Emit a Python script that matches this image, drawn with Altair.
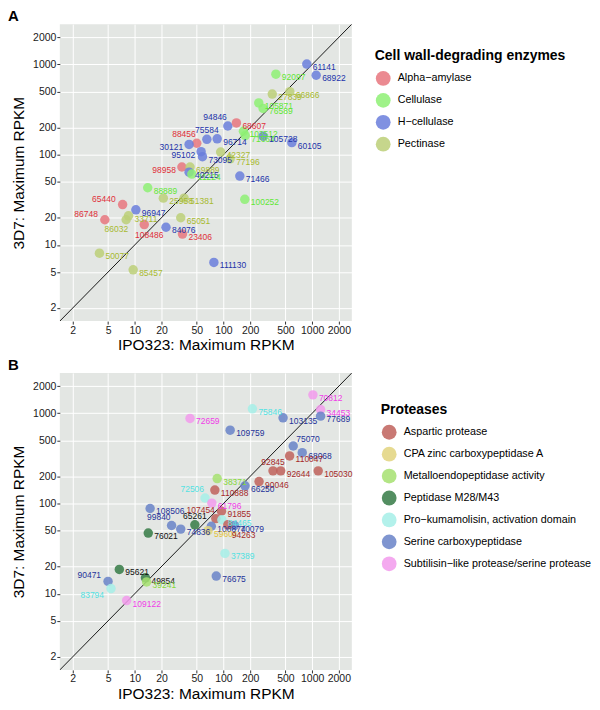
import altair as alt
import pandas as pd

FONT = "Liberation Sans"
TICKS = [2, 5, 10, 20, 50, 100, 200, 500, 1000, 2000]
DOMAIN = [1.43, 2800]

# ---------------- Panel A: cell wall-degrading enzymes ----------------
a_groups = ["Alpha\u2212amylase", "Cellulase", "H\u2212cellulase", "Pectinase"]
a_ids = ["61141", "68922", "92097", "66866", "27839", "105871", "76589", "94846",
         "68607", "103512", "71664", "105728", "60105", "75584", "96714", "88456",
         "30121", "95102", "73095", "42327", "77196", "98958", "69889", "40215",
         "11224", "71466", "88889", "25958", "51381", "100252", "65440", "96947",
         "33711", "86032", "86748", "65051", "108486", "84076", "23406", "50077",
         "85457", "111130"]
a_grp = [2, 2, 1, 3, 3, 1, 1, 2,
         0, 1, 1, 2, 2, 2, 2, 0,
         2, 2, 2, 3, 3, 0, 3, 2,
         1, 2, 1, 3, 3, 1, 0, 2,
         3, 3, 0, 3, 0, 2, 0, 3,
         3, 2]
a_ipo = [870, 1110, 390, 560, 355, 250, 280, 112,
         140, 168, 176, 280, 590, 65, 85, 50,
         41, 56, 58, 93, 119, 34, 42, 41,
         44, 153, 14, 21, 36, 174, 7.3, 10.3,
         8.5, 8, 4.6, 33, 12.8, 22.5, 34.5, 4,
         9.6, 78]
a_3d7 = [1010, 760, 780, 500, 470, 375, 325, 208,
         225, 182, 163, 160, 136, 148, 150, 134,
         130, 108, 95, 107, 90, 73, 73, 64,
         61, 58, 43, 33, 33, 32, 28, 24.5,
         21, 19, 19, 20, 16.8, 15.7, 13.2, 8.1,
         5.3, 6.4]
a_side = ["r", "r", "r", "r", "r", "r", "r", "ul",
          "r", "r", "r", "r", "r", "u", "r", "ul",
          "l", "l", "r", "r", "r", "l", "r", "r",
          "r", "r", "r", "r", "r", "r", "lu", "r",
          "r", "bl", "lu", "r", "b", "r", "r", "r",
          "r", "r"]
a_point_colors = ["#E8767E", "#8EF074", "#6A7EDC", "#BCCF78"]
a_text_colors = ["#E0303A", "#5FE834", "#2233AA", "#A8BA30"]

# ---------------- Panel B: proteases ----------------
b_groups = ["Aspartic protease", "CPA zinc carboxypeptidase A",
            "Metalloendopeptidase activity", "Peptidase M28/M43",
            "Pro\u2212kumamolisin, activation domain", "Serine carboxypeptidase",
            "Subtilisin\u2212like protease/serine protease"]
b_ids = ["70812", "75846", "34453", "77689", "103135", "72659", "109759", "75070",
         "68068", "110047", "92845", "92644", "105030", "38371", "90046", "66250",
         "110888", "72506", "61796", "108506", "91855", "107454", "84465", "99840",
         "74836", "65261", "106874", "70079", "94263", "59604", "76021", "37389",
         "76675", "95621", "49854", "39241", "90471", "83794", "109122"]
b_grp = [6, 4, 6, 5, 5, 6, 5, 5,
         5, 0, 0, 0, 0, 2, 0, 5,
         0, 4, 6, 5, 0, 0, 4, 5,
         5, 3, 5, 5, 0, 1, 3, 4,
         5, 3, 3, 2, 5, 4, 6]
b_ipo = [1020, 212, 1245, 1245, 470, 42, 119, 612,
         773, 557, 362, 442, 1170, 85, 252, 175,
         80, 62, 74, 14.9, 95, 82, 96, 26,
         33, 47.6, 73, 133, 112, 67, 14.2, 104,
         83, 6.7, 13.2, 13.6, 5, 5.4, 8.1]
b_3d7 = [1600, 1120, 1100, 930, 890, 877, 650, 434,
         366, 337, 230, 230, 230, 189, 175, 157,
         141, 115, 101, 88, 82, 68, 66, 57,
         52, 58, 56, 57, 58, 50, 47, 28,
         15.7, 18.6, 15, 13.5, 13.7, 11.4, 8.4]
b_side = ["r", "r", "r", "r", "r", "r", "r", "ur",
          "r", "r", "u", "r", "r", "r", "r", "r",
          "r", "ul", "r", "r", "r", "ul", "r", "ul",
          "r", "u", "r", "r", "br", "r", "r", "r",
          "r", "r", "r", "r", "lu", "lb", "r"]
b_point_colors = ["#C0625C", "#E2D47E", "#A6E070", "#357A45", "#A6EEE8",
                  "#6883C8", "#F29AEC"]
b_text_colors = ["#A52A2A", "#E3C23A", "#86D83A", "#111111", "#52E2E2",
                 "#1F3399", "#F040E8"]

# label placement styles: code -> (align, dx, dy)
LABEL_STYLE = {
    "r": ("left", 6, 3), "l": ("right", -6, 3), "ul": ("right", -1, -9),
    "lu": ("right", -7, -6), "u": ("center", 0, -9), "ur": ("left", 3, -7),
    "b": ("center", 5, 10), "bl": ("right", 2, 9), "lb": ("right", -7, 6),
    "br": ("left", 4, 10),
}


def panel(letter, groups, ids, grp, xs, ys, sides, pcols, tcols, title,
          legx, legy):
    df = pd.DataFrame({
        "id": ids,
        "group": [groups[g] for g in grp],
        "tcolor": [tcols[g] for g in grp],
        "ipo": xs, "d3d7": ys, "side": sides,
    })
    xsc = alt.Scale(type="log", domain=DOMAIN, nice=False)
    ysc = alt.Scale(type="log", domain=DOMAIN, nice=False)
    xax = alt.Axis(values=TICKS, format="d", title="IPO323: Maximum RPKM")
    yax = alt.Axis(values=TICKS, format="d", title="3D7: Maximum RPKM",
                   titlePadding=6)
    base = alt.Chart(df)

    line_df = pd.DataFrame({"a": DOMAIN, "b": DOMAIN})
    diag = alt.Chart(line_df).mark_line(color="black", strokeWidth=0.9,
                                        clip=True).encode(
        x=alt.X("a:Q", scale=xsc, axis=xax),
        y=alt.Y("b:Q", scale=ysc, axis=yax),
    )
    pts = base.mark_circle(size=90, opacity=0.85).encode(
        x=alt.X("ipo:Q", scale=xsc, axis=xax),
        y=alt.Y("d3d7:Q", scale=ysc, axis=yax),
        color=alt.Color("group:N",
                        scale=alt.Scale(domain=groups, range=pcols),
                        legend=alt.Legend(
                            title=title, orient="none", legendX=legx,
                            legendY=legy, symbolType="circle",
                            symbolSize=220, symbolOpacity=0.85,
                            labelFontSize=10.8, labelFont=FONT,
                            titleFontSize=14, titleFont=FONT,
                            titleFontWeight="bold", titleColor="black",
                            labelColor="black", rowPadding=6,
                            labelOffset=6, titlePadding=7, labelLimit=400,
                            titleLimit=400)),
    )
    layers = [diag, pts]
    for code, (al, dx, dy) in LABEL_STYLE.items():
        if code not in sides:
            continue
        layers.append(
            base.transform_filter(alt.datum.side == code).mark_text(
                align=al, baseline="middle", dx=dx, dy=dy, fontSize=8.5,
                font=FONT).encode(
                x=alt.X("ipo:Q", scale=xsc, axis=xax),
                y=alt.Y("d3d7:Q", scale=ysc, axis=yax),
                text="id:N",
                fill=alt.Fill("tcolor:N", scale=None, legend=None),
            ))
    lab = alt.Chart(pd.DataFrame({"t": [letter]})).mark_text(
        align="left", baseline="top", fontSize=15, fontWeight="bold",
        font=FONT, color="black").encode(
        text="t:N", x=alt.value(-52), y=alt.value(-15))
    layers.append(lab)
    return alt.layer(*layers).properties(width=293, height=298)


pa = panel("A", a_groups, a_ids, a_grp, a_ipo, a_3d7, a_side,
           a_point_colors, a_text_colors, "Cell wall-degrading enzymes", 316, 25)
pb = panel("B", b_groups, b_ids, b_grp, b_ipo, b_3d7, b_side,
           b_point_colors, b_text_colors, "Proteases", 322, 30)

chart = alt.vconcat(pa, pb, spacing=5).resolve_scale(
    color="independent", fill="independent"
).properties(
    padding={"left": 0, "top": 0, "right": 0, "bottom": 0}
).configure_view(
    fill="#E3E6E3", stroke=None
).configure_axis(
    labelFont=FONT, labelFontSize=10.5, labelColor="#1a1a1a",
    tickColor="#333333", tickSize=3, labelPadding=1, domain=False,
    gridColor="white", gridWidth=1, titleFont=FONT, titleFontSize=15.5,
    titleFontWeight="normal", titleColor="black", titlePadding=2,
)

chart.save("out.html", embed_options={"renderer": "svg", "actions": False})
